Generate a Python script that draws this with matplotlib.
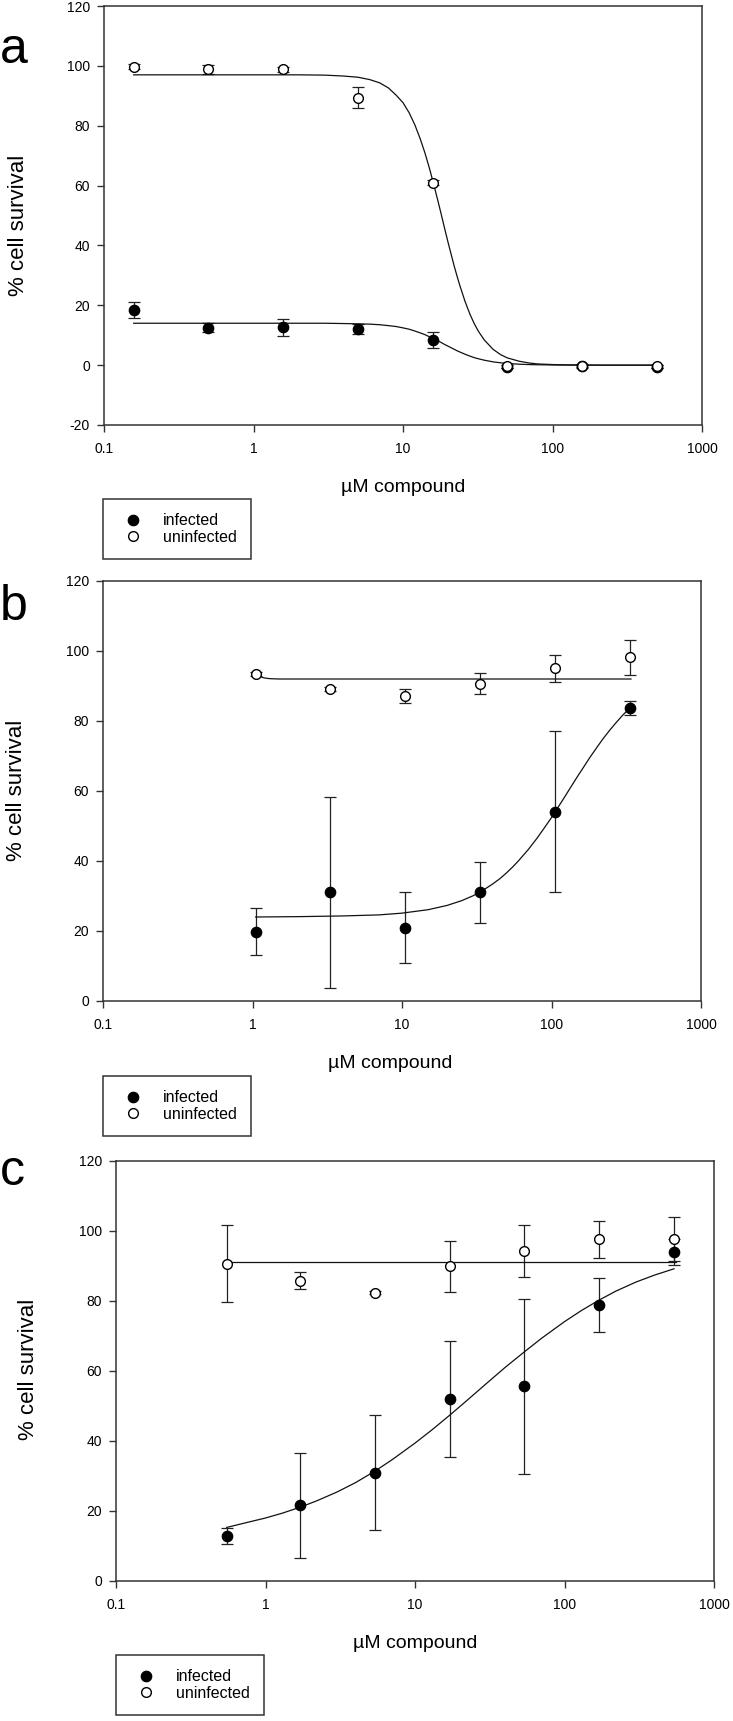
import matplotlib
matplotlib.use('Agg')
import matplotlib.pyplot as plt
from matplotlib.lines import Line2D
from matplotlib.ticker import FixedLocator, NullLocator

plt.rcParams['font.family'] = ['Liberation Sans', 'DejaVu Sans']

# ---------------- data ----------------
# panel a
a_dose = [0.158, 0.5, 1.58, 5.0, 15.8, 50, 158, 500]
a_uninf = [99.7, 98.8, 98.8, 89.4, 61.0, -0.3, -0.2, -0.4]
a_uninf_err = [0.8, 1.6, 0.9, 3.4, 0.8, 0.5, 0.5, 0.5]
a_inf = [18.4, 12.5, 12.6, 12.1, 8.4, -0.5, -0.4, -0.5]
a_inf_err = [2.8, 1.5, 2.8, 1.7, 2.6, 0.5, 0.5, 0.5]
a_fit_x = [0.158, 1, 2, 3, 4, 5, 6, 7, 8, 9, 10, 11, 12, 13, 14, 15, 16, 17, 18, 19, 20,
           21, 22, 23, 24, 26, 28, 30, 32, 35, 40, 45, 50, 60, 70, 80, 100, 120, 200, 500]
a_fit_uninf = [97.0, 97.0, 97.0, 96.9, 96.6, 96.2, 95.4, 94.3, 92.6, 90.2, 87.7, 84.3, 80.3,
               75.8, 71.0, 65.9, 60.7, 55.5, 50.5, 45.6, 41.1, 37.0, 33.1, 29.7, 26.6, 21.3,
               17.1, 13.8, 11.25, 8.4, 5.3, 3.5, 2.4, 1.3, 0.7, 0.4, 0.2, 0.1, 0.0, 0.0]
a_fit_inf = [14.0, 14.0, 14.0, 14.0, 13.9, 13.8, 13.7, 13.5, 13.2, 12.9, 12.45, 12.0, 11.4,
             10.8, 10.2, 9.5, 8.86, 8.2, 7.56, 6.9, 6.35, 5.8, 5.3, 4.8, 4.4, 3.65, 3.03,
             2.5, 2.12, 1.65, 1.1, 0.78, 0.56, 0.31, 0.19, 0.12, 0.06, 0.03, 0.0, 0.0]

# panel b
b_dose = [1.05, 3.3, 10.5, 33, 105, 333]
b_uninf = [93.4, 89.2, 87.1, 90.7, 95.1, 98.2]
b_uninf_err = [0.5, 0.6, 2.0, 3.0, 3.9, 5.0]
b_inf = [19.8, 31.0, 20.9, 31.0, 54.1, 83.8]
b_inf_err = [6.7, 27.2, 10.1, 8.7, 23.0, 2.0]
b_fit_uninf_x = [1.05, 1.12, 1.2, 1.3, 1.5, 340]
b_fit_uninf = [93.4, 92.7, 92.3, 92.1, 92.0, 92.0]
b_fit_inf_x = [1.05, 2, 4, 7, 10, 15, 20, 25, 30, 35, 40, 45, 50, 55, 60, 70, 80, 90, 100,
               110, 120, 135, 150, 165, 180, 200, 220, 245, 270, 300, 333]
b_fit_inf = [24.0, 24.1, 24.3, 24.6, 25.1, 26.1, 27.3, 28.65, 30.1, 31.7, 33.3, 34.9, 36.6,
             38.3, 40.0, 43.3, 46.5, 49.6, 52.4, 55.2, 57.7, 61.2, 64.3, 67.0, 69.5, 72.3,
             74.8, 77.35, 79.5, 81.7, 83.6]

# panel c
c_dose = [0.55, 1.71, 5.4, 17.1, 54, 171, 540]
c_uninf = [90.7, 85.8, 82.4, 89.9, 94.4, 97.7, 97.7]
c_uninf_err = [11.1, 2.5, 0.5, 7.3, 7.4, 5.3, 6.2]
c_inf = [12.9, 21.7, 30.9, 52.0, 55.7, 78.9, 94.0]
c_inf_err = [2.3, 15.0, 16.4, 16.5, 25.0, 7.7, 3.8]
c_fit_uninf_x = [0.55, 560]
c_fit_uninf = [91.1, 91.1]
c_fit_inf_x = [0.55, 0.7, 1, 1.3, 1.71, 2.2, 3, 4, 5.4, 7, 10, 13, 17.1, 22, 30, 40, 54, 70,
               100, 130, 171, 220, 300, 400, 540]
c_fit_inf = [15.3, 16.4, 18.0, 19.4, 21.1, 22.9, 25.4, 28.1, 31.4, 34.6, 39.4, 43.2, 47.4,
             51.4, 56.4, 61.0, 65.5, 69.3, 74.1, 77.3, 80.3, 82.8, 85.4, 87.4, 89.2]

x_ticks = [0.1, 1, 10, 100, 1000]
x_tick_labels = ['0.1', '1', '10', '100', '1000']
legend_labels = ['infected', 'uninfected']
panel_letters = ['a', 'b', 'c']

# ---------------- layout ----------------
W, H = 733, 1721
fig = plt.figure(figsize=(W / 100, H / 100), dpi=100)

def rect(l, t, r, b):
    return [l / W, 1 - b / H, (r - l) / W, (b - t) / H]

DARK = '#333333'

panels = [
    dict(box=(104, 6, 702, 425), ylim=(-20, 120), yticks=list(range(-20, 121, 20)),
         dose=a_dose, inf=a_inf, inf_err=a_inf_err, uninf=a_uninf, uninf_err=a_uninf_err,
         fits=[(a_fit_x, a_fit_inf), (a_fit_x, a_fit_uninf)],
         xlabel=(403, 488), ylabel=(19, 225), letter=(0, 63), legend=(103, 499)),
    dict(box=(103, 581, 701, 1001), ylim=(0, 120), yticks=list(range(0, 121, 20)),
         dose=b_dose, inf=b_inf, inf_err=b_inf_err, uninf=b_uninf, uninf_err=b_uninf_err,
         fits=[(b_fit_inf_x, b_fit_inf), (b_fit_uninf_x, b_fit_uninf)],
         xlabel=(390, 1063), ylabel=(17, 790), letter=(0, 620), legend=(103, 1076)),
    dict(box=(116, 1161, 714, 1581), ylim=(0, 120), yticks=list(range(0, 121, 20)),
         dose=c_dose, inf=c_inf, inf_err=c_inf_err, uninf=c_uninf, uninf_err=c_uninf_err,
         fits=[(c_fit_inf_x, c_fit_inf), (c_fit_uninf_x, c_fit_uninf)],
         xlabel=(415, 1644), ylabel=(29, 1369), letter=(0, 1185), legend=(116, 1655)),
]

for letter, p in zip(panel_letters, panels):
    ax = fig.add_axes(rect(*p['box']))
    ax.set_xscale('log')
    ax.set_xlim(0.1, 1000)
    ax.set_ylim(*p['ylim'])

    ax.errorbar(p['dose'], p['inf'], yerr=p['inf_err'], fmt='none', ecolor='#222222',
                elinewidth=0.9, capsize=4, capthick=0.9, zorder=2)
    ax.errorbar(p['dose'], p['uninf'], yerr=p['uninf_err'], fmt='none', ecolor='#222222',
                elinewidth=0.9, capsize=4, capthick=0.9, zorder=2)
    for fx, fy in p['fits']:
        ax.plot(fx, fy, color='#111111', lw=0.9, zorder=3)
    ax.plot(p['dose'], p['inf'], 'o', ms=7.5, mfc='black', mec='black', mew=0.9, zorder=4,
            linestyle='none')
    ax.plot(p['dose'], p['uninf'], 'o', ms=7.0, mfc='white', mec='black', mew=1.0, zorder=5,
            linestyle='none')

    ax.xaxis.set_major_locator(FixedLocator(x_ticks))
    ax.set_xticklabels(x_tick_labels)
    ax.xaxis.set_minor_locator(NullLocator())
    ax.set_yticks(p['yticks'])
    ax.set_yticklabels([str(v) for v in p['yticks']])

    for s in ax.spines.values():
        s.set_color(DARK)
        s.set_linewidth(1.1)
    ax.tick_params(axis='both', which='major', direction='out', length=5, width=1.0,
                   color=DARK, labelsize=10, top=False, right=False)
    ax.tick_params(axis='x', pad=7)
    ax.tick_params(axis='y', pad=5)

    xl, yl = p['xlabel']
    fig.text(xl / W, 1 - yl / H, 'µM compound', fontsize=14, ha='center', va='center')
    xl, yl = p['ylabel']
    fig.text(xl / W, 1 - yl / H, '% cell survival', fontsize=16, rotation=90,
             ha='center', va='center')
    lx, ly = p['letter']
    fig.text(lx / W, 1 - ly / H, letter, fontsize=36, ha='left', va='baseline')

    handles = [
        Line2D([], [], marker='o', linestyle='none', ms=7.5, mfc='black', mec='black', mew=0.9),
        Line2D([], [], marker='o', linestyle='none', ms=7.0, mfc='white', mec='black', mew=1.0),
    ]
    gx, gy = p['legend']
    leg = fig.legend(handles, legend_labels, loc='upper left',
                     bbox_to_anchor=(gx / W, 1 - gy / H), bbox_transform=fig.transFigure,
                     borderaxespad=0, fontsize=11.5, frameon=True, fancybox=False,
                     borderpad=0.9, labelspacing=0.1, handlelength=2.0, handletextpad=0.85)
    fr = leg.get_frame()
    fr.set_edgecolor(DARK)
    fr.set_linewidth(1.1)
    fr.set_facecolor('white')
    fr.set_alpha(1)

fig.savefig('out.png', dpi=100)
